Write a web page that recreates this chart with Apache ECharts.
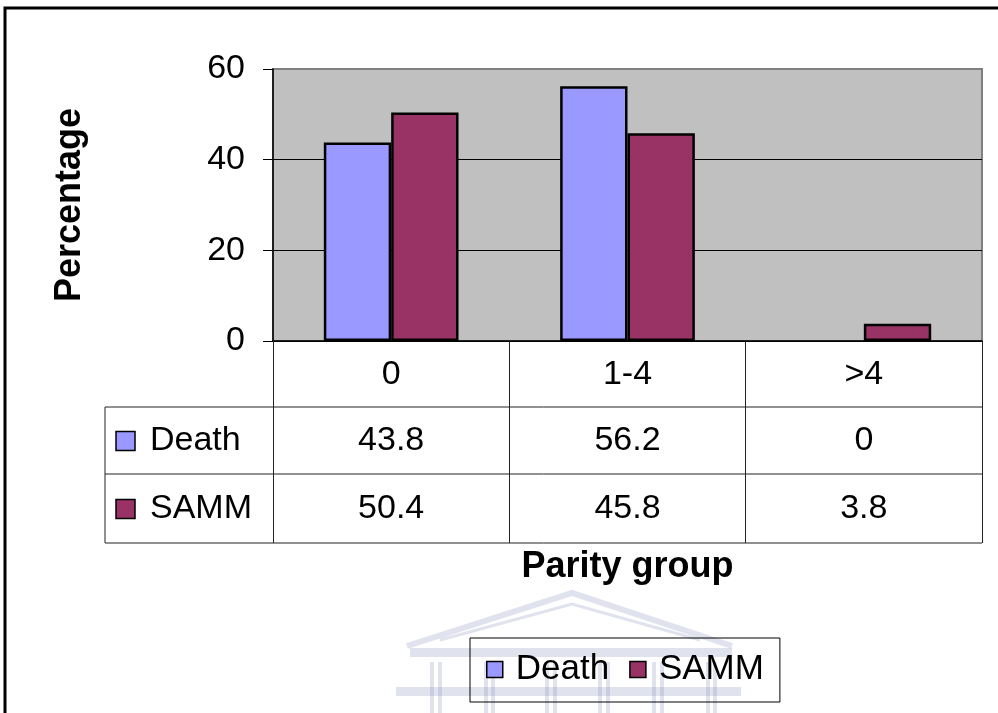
<!DOCTYPE html>
<html>
<head>
<meta charset="utf-8">
<script src="https://cdn.jsdelivr.net/npm/echarts@6/dist/echarts.min.js"></script>
<style>
  html, body { margin: 0; padding: 0; background: #fff; }
  #chart { width: 998px; height: 713px; }
</style>
</head>
<body>
<div id="chart"></div>
<script>
// data
const categories = ['0', '1-4', '>4']
const deathValues = [43.8, 56.2, 0]
const sammValues = [50.4, 45.8, 3.8]
const yTicks = [0, 20, 40, 60]
const seriesNames = ['Death', 'SAMM']

const FONT = "'Liberation Sans', Arial, sans-serif"
const DEATH_COLOR = '#9999ff'
const SAMM_COLOR = '#993366'

// layout of the plot area and the data table under it
const GRID_LEFT = 273
const GRID_RIGHT = 982
const GRID_TOP = 69
const GRID_BOTTOM = 341
const TABLE_LEFT = 105
const ROW_LINES = [407, 474, 543]

// zero bars get no outline (Excel draws nothing there)
const barData = values => values.map(v => (v === 0 ? { value: v, itemStyle: { borderWidth: 0 } } : v))

const chart = echarts.init(document.getElementById('chart'))

chart.setOption({
  backgroundColor: '#fff',
  animation: false,
  grid: {
    left: GRID_LEFT,
    right: 998 - GRID_RIGHT,
    top: GRID_TOP,
    bottom: 713 - GRID_BOTTOM,
    show: true,
    backgroundColor: '#c0c0c0',
    borderColor: '#808080',
    borderWidth: 2
  },
  legend: {
    data: seriesNames,
    left: 470,
    top: 638,
    padding: [14, 16, 15, 16],
    borderColor: '#000',
    borderWidth: 1,
    itemWidth: 16,
    itemHeight: 16,
    itemGap: 20,
    icon: 'rect',
    itemStyle: { borderColor: '#000', borderWidth: 1.5 },
    textStyle: {
      fontFamily: FONT,
      fontSize: 35,
      color: '#000',
      padding: [0, 0, 0, 8]
    }
  },
  xAxis: {
    type: 'category',
    data: categories,
    name: 'Parity group',
    nameLocation: 'middle',
    nameGap: 208,
    nameTextStyle: { fontFamily: FONT, fontSize: 36, fontWeight: 'bold', color: '#000' },
    axisLine: { lineStyle: { color: '#000', width: 1.5 } },
    axisTick: {
      show: true,
      interval: 0,
      alignWithLabel: false,
      length: ROW_LINES[2] - GRID_BOTTOM,
      lineStyle: { color: '#222', width: 1 }
    },
    axisLabel: {
      fontFamily: FONT,
      fontSize: 34,
      color: '#000',
      margin: 17,
      interval: 0
    }
  },
  yAxis: {
    type: 'value',
    min: yTicks[0],
    max: yTicks[yTicks.length - 1],
    interval: yTicks[1] - yTicks[0],
    name: 'Percentage',
    nameLocation: 'middle',
    nameRotate: 90,
    nameGap: 185,
    nameTextStyle: { fontFamily: FONT, fontSize: 36, fontWeight: 'bold', color: '#000' },
    axisLine: { show: true, lineStyle: { color: '#000', width: 1.5 } },
    axisTick: { show: true, length: 10, lineStyle: { color: '#000' } },
    axisLabel: { fontFamily: FONT, fontSize: 34, color: '#000', margin: 28 },
    splitLine: {
      show: true,
      lineStyle: { color: ['#000', '#000', '#000', '#808080'], width: 1 }
    }
  },
  series: [
    {
      name: seriesNames[0],
      type: 'bar',
      data: barData(deathValues),
      barGap: '0%',
      barCategoryGap: '43%',
      itemStyle: { color: DEATH_COLOR, borderColor: '#000', borderWidth: 2.5 }
    },
    {
      name: seriesNames[1],
      type: 'bar',
      data: barData(sammValues),
      barGap: '0%',
      barCategoryGap: '43%',
      itemStyle: { color: SAMM_COLOR, borderColor: '#000', borderWidth: 2.5 }
    }
  ]
})

// data table + frame + faint watermark
const colX = categories.map((c, i) => chart.convertToPixel({ xAxisIndex: 0 }, i))
const rows = [
  { name: seriesNames[0], color: DEATH_COLOR, values: deathValues },
  { name: seriesNames[1], color: SAMM_COLOR, values: sammValues }
]
const textStyle = { fontFamily: FONT, fontSize: 34, fill: '#000' }
const WM = 'rgba(130,140,185,0.25)'

const graphics = []

// watermark (building logo behind the legend)
graphics.push({
  type: 'polyline', silent: true, z: -5,
  shape: { points: [[407, 646], [572, 593], [732, 646]] },
  style: { stroke: WM, lineWidth: 6, fill: null }
})
graphics.push({
  type: 'polyline', silent: true, z: -5,
  shape: { points: [[440, 640], [572, 604], [700, 640]] },
  style: { stroke: WM, lineWidth: 3, fill: null }
})
graphics.push({ type: 'rect', silent: true, z: -5, shape: { x: 410, y: 648, width: 322, height: 9 }, style: { fill: WM } })
graphics.push({ type: 'rect', silent: true, z: -5, shape: { x: 396, y: 687, width: 345, height: 9 }, style: { fill: WM } })
;[430, 438, 484, 491, 545, 553, 598, 606, 652, 660, 706, 713].forEach(x => {
  graphics.push({ type: 'rect', silent: true, z: -5, shape: { x: x, y: 662, width: 4, height: 51 }, style: { fill: WM } })
})

// outer frame
graphics.push({
  type: 'rect', silent: true, z: 10,
  shape: { x: 5, y: 8, width: 1100, height: 800 },
  style: { fill: null, stroke: '#000', lineWidth: 3 }
})

// table lines
ROW_LINES.forEach(y => {
  graphics.push({
    type: 'line', silent: true,
    shape: { x1: TABLE_LEFT, y1: y, x2: GRID_RIGHT, y2: y },
    style: { stroke: '#222', lineWidth: 1 }
  })
})
graphics.push({
  type: 'line', silent: true,
  shape: { x1: TABLE_LEFT, y1: ROW_LINES[0], x2: TABLE_LEFT, y2: ROW_LINES[2] },
  style: { stroke: '#222', lineWidth: 1 }
})

rows.forEach((row, r) => {
  const cy = (ROW_LINES[r] + ROW_LINES[r + 1]) / 2
  graphics.push({
    type: 'rect', silent: true,
    shape: { x: 116, y: cy - 9, width: 19, height: 19 },
    style: { fill: row.color, stroke: '#000', lineWidth: 1.5 }
  })
  graphics.push({
    type: 'text', silent: true,
    style: Object.assign({ text: row.name, x: 150, y: cy, align: 'left', verticalAlign: 'middle' }, textStyle)
  })
  row.values.forEach((v, i) => {
    graphics.push({
      type: 'text', silent: true,
      style: Object.assign({ text: String(v), x: colX[i], y: cy, align: 'center', verticalAlign: 'middle' }, textStyle)
    })
  })
})

chart.setOption({ graphic: graphics })
</script>
</body>
</html>
